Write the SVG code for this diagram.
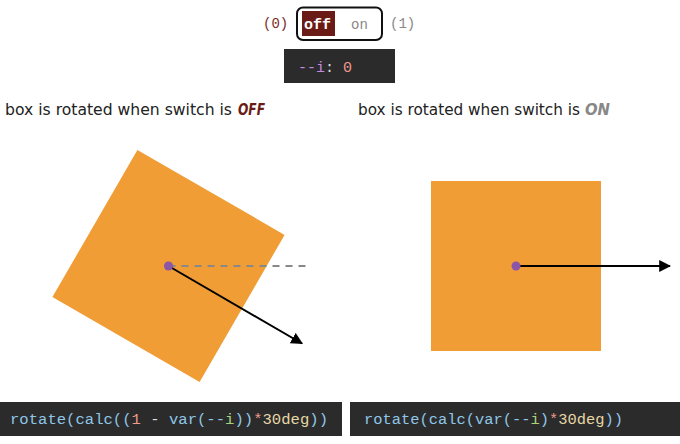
<svg xmlns="http://www.w3.org/2000/svg" width="680" height="444" viewBox="0 0 680 444">
<defs>
<style>
.mono{font-family:"Liberation Mono","DejaVu Sans Mono",monospace;}
.sans{font-family:"DejaVu Sans","Liberation Sans",sans-serif;font-size:15.5px;fill:#222;}
.em{font-family:"DejaVu Sans","Liberation Sans",sans-serif;font-size:15.5px;font-style:italic;font-weight:bold;}
.code{font-size:15.5px;}
.box{fill:#f09d36;}
.dot{fill:#8b55a8;}
.bar{fill:#2b2b2b;}
.b{fill:#8fc6e8;}
.g{fill:#a9d27c;}
.s{fill:#ef9a8a;}
.y{fill:#e6d7a6;}
.w{fill:#dddddd;}
</style>
<marker id="ah" viewBox="0 0 10 10" refX="9" refY="5" markerWidth="12" markerHeight="12" markerUnits="userSpaceOnUse" orient="auto">
<path d="M0,0 L10,5 L0,10 z" fill="#000"/>
</marker>
</defs>
<rect width="680" height="444" fill="#fff"/>
<g id="switch">
<text class="mono" x="263" y="28" font-size="14" fill="#7a2e1e">(0)</text>
<rect x="297" y="7.5" width="85" height="32.5" rx="6" fill="#fff" stroke="#111" stroke-width="2"/>
<rect x="302" y="11" width="33" height="25" fill="#6b1b16"/>
<text class="mono" x="304" y="29" font-size="15" font-weight="bold" fill="#fff">off</text>
<text class="mono" x="351" y="29" font-size="14" fill="#888">on</text>
<text class="mono" x="390" y="28" font-size="14" fill="#888">(1)</text>
</g>
<g id="varbox">
<rect class="bar" x="284" y="49" width="111" height="34"/>
<text class="mono" x="298" y="71.5" font-size="15"><tspan fill="#c28ae0">--i</tspan><tspan class="w">: </tspan><tspan class="s">0</tspan></text>
</g>
<g id="label-off">
<text class="sans" x="5" y="114.5" textLength="227" lengthAdjust="spacingAndGlyphs">box is rotated when switch is</text>
<text class="em" x="238" y="114.5" fill="#6b1b16" textLength="27" lengthAdjust="spacingAndGlyphs">OFF</text>
</g>
<g id="label-on">
<text class="sans" x="358" y="114.5" textLength="222" lengthAdjust="spacingAndGlyphs">box is rotated when switch is</text>
<text class="em" x="585" y="114.5" fill="#888" textLength="25" lengthAdjust="spacingAndGlyphs">ON</text>
</g>
<g id="box-off">
<rect class="box" x="83.5" y="181" width="170" height="170" transform="rotate(30 168.5 266)"/>
</g>
<g id="box-on">
<rect class="box" x="431" y="181" width="170" height="170"/>
</g>
<g id="connectors">
<line x1="168.5" y1="266" x2="310" y2="266" stroke="#888" stroke-width="2" stroke-dasharray="7,6"/>
<line x1="168.5" y1="266" x2="302" y2="343.5" stroke="#000" stroke-width="2" marker-end="url(#ah)"/>
<line x1="516" y1="266" x2="670" y2="266" stroke="#000" stroke-width="2" marker-end="url(#ah)"/>
</g>
<g id="dots">
<circle class="dot" cx="168.5" cy="266" r="4.5"/>
<circle class="dot" cx="516" cy="266" r="4.5"/>
</g>
<g id="code-off">
<rect class="bar" x="0" y="402" width="342" height="34"/>
<text class="mono code" x="10" y="424" textLength="318" lengthAdjust="spacingAndGlyphs"><tspan class="b">rotate(calc((</tspan><tspan class="s">1</tspan><tspan class="w"> - </tspan><tspan class="b">var(--</tspan><tspan class="g">i</tspan><tspan class="b">))</tspan><tspan class="s">*</tspan><tspan class="y">30deg</tspan><tspan class="b">))</tspan></text>
</g>
<g id="code-on">
<rect class="bar" x="350" y="402" width="330" height="34"/>
<text class="mono code" x="364" y="424" textLength="259" lengthAdjust="spacingAndGlyphs"><tspan class="b">rotate(calc(var(--</tspan><tspan class="g">i</tspan><tspan class="b">)</tspan><tspan class="s">*</tspan><tspan class="y">30deg</tspan><tspan class="b">))</tspan></text>
</g>
</svg>
